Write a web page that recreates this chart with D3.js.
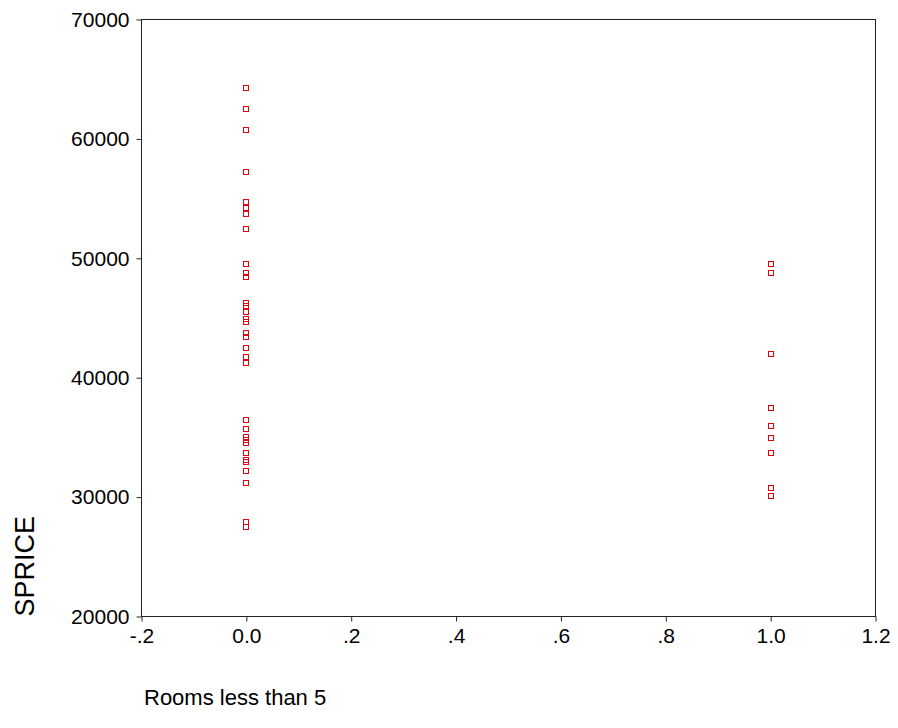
<!DOCTYPE html>
<html lang="en">
<head>
<meta charset="UTF-8">
<title>SPRICE vs Rooms less than 5</title>
<script src="https://d3js.org/d3.v7.min.js"></script>
<style>
  body { margin: 0; background: #fff; }
  svg text { font-family: "Liberation Sans", Arial, sans-serif; fill: #000; }
</style>
</head>
<body>
<svg id="chart" width="898" height="728"></svg>
<script>
  // rooms less than 5 (dummy: 0 / 1) and sale price
  const priceRoomsNo = [64240, 62480, 60720, 57250, 57250, 54740, 54240, 53740, 52480,
    49500, 48740, 48460, 46230, 46000, 45480, 44890, 44670, 43720, 43430, 42460,
    41710, 41210, 36480, 36480, 35700, 35060, 34780, 34510, 33720, 33720, 33110,
    32970, 32210, 31210, 27940, 27470];
  const priceRoomsYes = [49500, 48740, 41960, 37460, 37460, 35950, 34980, 33720, 33720,
    30740, 30100];
  const xTicks = [-0.2, 0, 0.2, 0.4, 0.6, 0.8, 1.0, 1.2];
  const xTickLabels = ["-.2", "0.0", ".2", ".4", ".6", ".8", "1.0", "1.2"];
  const yTicks = [20000, 30000, 40000, 50000, 60000, 70000];

  const points = priceRoomsNo.map(v => ({ x: 0, y: v }))
    .concat(priceRoomsYes.map(v => ({ x: 1, y: v })));

  const plotLeft = 141.5, plotRight = 875.5, plotTop = 19.5, plotBottom = 616.5;

  const svg = d3.select("#chart");

  const x = d3.scaleLinear().domain([-0.2, 1.2]).range([plotLeft, plotRight]);
  const y = d3.scaleLinear().domain([20000, 70000]).range([plotBottom, plotTop]);

  // frame
  svg.append("rect")
    .attr("x", plotLeft).attr("y", plotTop)
    .attr("width", plotRight - plotLeft).attr("height", plotBottom - plotTop)
    .attr("fill", "none").attr("stroke", "#222").attr("stroke-width", 1);

  const xAxis = svg.append("g")
    .attr("transform", `translate(0,${plotBottom})`)
    .call(d3.axisBottom(x).tickValues(xTicks)
      .tickFormat((d, i) => xTickLabels[i]).tickSizeOuter(0).tickSize(5).tickPadding(7));
  xAxis.select(".domain").remove();
  xAxis.selectAll("line").attr("stroke", "#222");
  xAxis.selectAll("text").style("font-size", "21px")
    .style("font-family", '"Liberation Sans", Arial, sans-serif');

  const yAxis = svg.append("g")
    .attr("transform", `translate(${plotLeft},0)`)
    .call(d3.axisLeft(y).tickValues(yTicks).tickFormat(d3.format("d"))
      .tickSizeOuter(0).tickSize(5).tickPadding(7));
  yAxis.select(".domain").remove();
  yAxis.selectAll("line").attr("stroke", "#222");
  yAxis.selectAll("text").style("font-size", "21px")
    .style("font-family", '"Liberation Sans", Arial, sans-serif');

  // markers
  svg.append("g").selectAll("rect.pt")
    .data(points)
    .enter().append("rect")
    .attr("class", "pt")
    .attr("x", d => Math.round(x(d.x)) - 3 + 0.5)
    .attr("y", d => Math.round(y(d.y)) - 3 + 0.5)
    .attr("width", 5).attr("height", 5)
    .attr("fill", "none").attr("stroke", "#e8000b").attr("stroke-width", 1);

  // axis titles
  svg.append("text")
    .attr("transform", `translate(34,${plotBottom}) rotate(-90)`)
    .style("font-size", "27px")
    .text("SPRICE");

  svg.append("text")
    .attr("x", 144).attr("y", 705)
    .style("font-size", "22px")
    .text("Rooms less than 5");
</script>
</body>
</html>
